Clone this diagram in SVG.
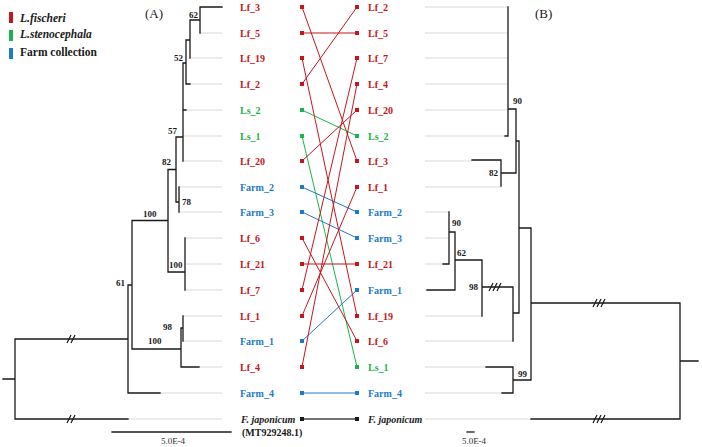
<svg xmlns="http://www.w3.org/2000/svg" width="702" height="447" viewBox="0 0 702 447">
<style>
.t{fill:none;stroke:#1a1a1a;stroke-width:1.3;stroke-linecap:square}
.g{fill:none;stroke:#d9d9d9;stroke-width:1}
.lab{font-family:"Liberation Serif",serif;font-weight:bold;font-size:10px}
.sup{font-family:"Liberation Serif",serif;font-weight:bold;font-size:9px;fill:#1a1a1a}
.r{fill:#c5161d}.gr{fill:#1cb34f}.b{fill:#1e7bc9}.k{fill:#1a1a1a}
.cr{stroke:#c5161d}.cg{stroke:#1cb34f}.cb{stroke:#1e7bc9}.ck{stroke:#444}
.c{fill:none;stroke-width:1}
.sl{fill:none;stroke:#1a1a1a;stroke-width:1.2}
</style>
<rect width="702" height="447" fill="#fff"/>
<g id="legend">
<rect x="9" y="12" width="4" height="11" class="r"/>
<text x="20" y="22" font-family="Liberation Serif, serif" font-weight="bold" font-style="italic" font-size="11.5" class="k">L.fischeri</text>
<rect x="9" y="30" width="4" height="11" class="gr"/>
<text x="20" y="38" font-family="Liberation Serif, serif" font-weight="bold" font-style="italic" font-size="11.5" class="k">L.stenocephala</text>
<rect x="9" y="48" width="4" height="11" class="b"/>
<text x="20" y="56" font-family="Liberation Serif, serif" font-weight="bold" font-size="11.5" class="k">Farm collection</text>
</g>
<text x="145" y="18" font-family="Liberation Serif, serif" font-size="13" class="k">(A)</text>
<text x="535" y="18" font-family="Liberation Serif, serif" font-size="13" class="k">(B)</text>
<g id="treeA-leaves" class="g">
<path d="M200,33H222M190,58H222M190,84H222M186,110H222M183,136H222M183,161H222M179,187H222M179,212H222M185,238H222M185,264H222M185,290H222M183,316H222M183,341H222M199,367H222M160,393H222M128,419H222"/>
</g>
<g id="treeA" class="t">
<path d="M200,7H222M200,7V33M190,20H200M190,20V58M186,40H190M186,40V84M186,84H190M183,63H186M183,63V161M183,110H186M176,137H183M176,137V202M176,202H179M179,187V212M168,169.5H176M168,169.5V272M168,272H185M185,238V290M132,220.5H168M132,220.5V349M132,349H181M181,328V367M181,367H199M181,328H183M183,316V341M128,285H132M128,285V393M128,393H160M15,339H128M15,339V419M15,419H128M3,379H15"/>
</g>
<g id="treeA-breaks" class="sl">
<path d="M67,343L71,335M71,343L75,335M67,423L71,415M71,423L75,415"/>
</g>
<g id="treeA-support">
<text class="sup" x="189" y="18">62</text>
<text class="sup" x="174" y="61">52</text>
<text class="sup" x="168" y="134">57</text>
<text class="sup" x="162" y="165">82</text>
<text class="sup" x="182" y="205">78</text>
<text class="sup" x="143" y="217">100</text>
<text class="sup" x="169" y="268">100</text>
<text class="sup" x="116" y="286">61</text>
<text class="sup" x="163" y="330">98</text>
<text class="sup" x="148" y="344">100</text>
</g>
<g id="scaleA">
<path d="M112,432H231" class="t"/>
<text x="173" y="444" text-anchor="middle" font-family="Liberation Serif, serif" font-size="9" fill="#333">5.0E-4</text>
</g>
<g id="treeB-leaves" class="g">
<path d="M425,7H508M425,33H508M425,58H508M425,84H508M425,110H508M425,136H505M425,161H472M425,187H501M425,212H449M425,238H449M425,264H443M425,290H427M425,316H482M425,341H513M425,367H486M425,393H502M425,419H531"/>
</g>
<g id="treeB" class="t">
<path d="M508,7V136M505,136H508M508,109H516M516,109V173M501,173H516M501,160V186M472,160H501M516,141H519M519,141V313M513,313H519M513,287V341M482,287H513M482,260V316M455,260H482M455,232V290M427,290H455M449,232H455M449,212V264M443,264H449M519,228H531M531,228V380M513,380H531M513,367V393M486,367H513M502,393H513M531,303H680M680,303V419M531,419H680M680,361H698"/>
</g>
<g id="treeB-breaks" class="sl">
<path d="M489,291L493,283M493,291L497,283M497,291L501,283M593,307L597,299M597,307L601,299M601,307L605,299M593,423L597,415M597,423L601,415M601,423L605,415"/>
</g>
<g id="treeB-support">
<text class="sup" x="513" y="104">90</text>
<text class="sup" x="489" y="176">82</text>
<text class="sup" x="452" y="226">90</text>
<text class="sup" x="457" y="256">62</text>
<text class="sup" x="469" y="290">98</text>
<text class="sup" x="518" y="377">99</text>
</g>
<g id="scaleB">
<path d="M467,432H474" class="t"/>
<text x="474" y="444" text-anchor="middle" font-family="Liberation Serif, serif" font-size="9" fill="#333">5.0E-4</text>
</g>
<g id="left-labels" class="lab">
<text x="240" y="10.5" class="r">Lf_3</text>
<text x="240" y="36.5" class="r">Lf_5</text>
<text x="240" y="61.5" class="r">Lf_19</text>
<text x="240" y="87.5" class="r">Lf_2</text>
<text x="240" y="113.5" class="gr">Ls_2</text>
<text x="240" y="139.5" class="gr">Ls_1</text>
<text x="240" y="164.5" class="r">Lf_20</text>
<text x="240" y="190.5" class="b">Farm_2</text>
<text x="240" y="215.5" class="b">Farm_3</text>
<text x="240" y="241.5" class="r">Lf_6</text>
<text x="240" y="267.5" class="r">Lf_21</text>
<text x="240" y="293.5" class="r">Lf_7</text>
<text x="240" y="319.5" class="r">Lf_1</text>
<text x="240" y="344.5" class="b">Farm_1</text>
<text x="240" y="370.5" class="r">Lf_4</text>
<text x="240" y="396.5" class="b">Farm_4</text>
<text x="241" y="422.5" class="k" font-style="italic">F. japonicum</text>
<text x="242" y="436" class="k">(MT929248.1)</text>
</g>
<g id="right-labels" class="lab">
<text x="368" y="10.5" class="r">Lf_2</text>
<text x="368" y="36.5" class="r">Lf_5</text>
<text x="368" y="61.5" class="r">Lf_7</text>
<text x="368" y="87.5" class="r">Lf_4</text>
<text x="368" y="113.5" class="r">Lf_20</text>
<text x="368" y="139.5" class="gr">Ls_2</text>
<text x="368" y="164.5" class="r">Lf_3</text>
<text x="368" y="190.5" class="r">Lf_1</text>
<text x="368" y="215.5" class="b">Farm_2</text>
<text x="368" y="241.5" class="b">Farm_3</text>
<text x="368" y="267.5" class="r">Lf_21</text>
<text x="368" y="293.5" class="b">Farm_1</text>
<text x="368" y="319.5" class="r">Lf_19</text>
<text x="368" y="344.5" class="r">Lf_6</text>
<text x="368" y="370.5" class="gr">Ls_1</text>
<text x="368" y="396.5" class="b">Farm_4</text>
<text x="368" y="422.5" class="k" font-style="italic">F. japonicum</text>
</g>
<g id="connectors" class="c">
<path class="cr" d="M302,7L357,161"/>
<path class="cr" d="M302,33L357,33"/>
<path class="cr" d="M302,58L357,316"/>
<path class="cr" d="M302,84L357,7"/>
<path class="cg" d="M302,110L357,136"/>
<path class="cg" d="M302,136L357,367"/>
<path class="cr" d="M302,161L357,110"/>
<path class="cb" d="M302,187L357,212"/>
<path class="cb" d="M302,212L357,238"/>
<path class="cr" d="M302,238L357,341"/>
<path class="cr" d="M302,264L357,264"/>
<path class="cr" d="M302,290L357,58"/>
<path class="cr" d="M302,316L357,187"/>
<path class="cb" d="M302,341L357,290"/>
<path class="cr" d="M302,367L357,84"/>
<path class="cb" d="M302,393L357,393"/>
<path class="ck" stroke-width="1.6" d="M302,419L357,419"/>
</g>
<g id="dots">
<g class="r"><rect x="300" y="5" width="4" height="4"/><rect x="300" y="31" width="4" height="4"/><rect x="300" y="56" width="4" height="4"/><rect x="300" y="82" width="4" height="4"/><rect x="300" y="159" width="4" height="4"/><rect x="300" y="236" width="4" height="4"/><rect x="300" y="262" width="4" height="4"/><rect x="300" y="288" width="4" height="4"/><rect x="300" y="314" width="4" height="4"/><rect x="300" y="365" width="4" height="4"/>
<rect x="355" y="5" width="4" height="4"/><rect x="355" y="31" width="4" height="4"/><rect x="355" y="56" width="4" height="4"/><rect x="355" y="82" width="4" height="4"/><rect x="355" y="108" width="4" height="4"/><rect x="355" y="159" width="4" height="4"/><rect x="355" y="185" width="4" height="4"/><rect x="355" y="262" width="4" height="4"/><rect x="355" y="314" width="4" height="4"/><rect x="355" y="339" width="4" height="4"/></g>
<g class="gr"><rect x="300" y="108" width="4" height="4"/><rect x="300" y="134" width="4" height="4"/><rect x="355" y="134" width="4" height="4"/><rect x="355" y="365" width="4" height="4"/></g>
<g class="b"><rect x="300" y="185" width="4" height="4"/><rect x="300" y="210" width="4" height="4"/><rect x="300" y="339" width="4" height="4"/><rect x="300" y="391" width="4" height="4"/><rect x="355" y="210" width="4" height="4"/><rect x="355" y="236" width="4" height="4"/><rect x="355" y="288" width="4" height="4"/><rect x="355" y="391" width="4" height="4"/></g>
<g class="k"><rect x="300" y="417" width="4" height="4"/><rect x="355" y="417" width="4" height="4"/></g>
</g>
</svg>
